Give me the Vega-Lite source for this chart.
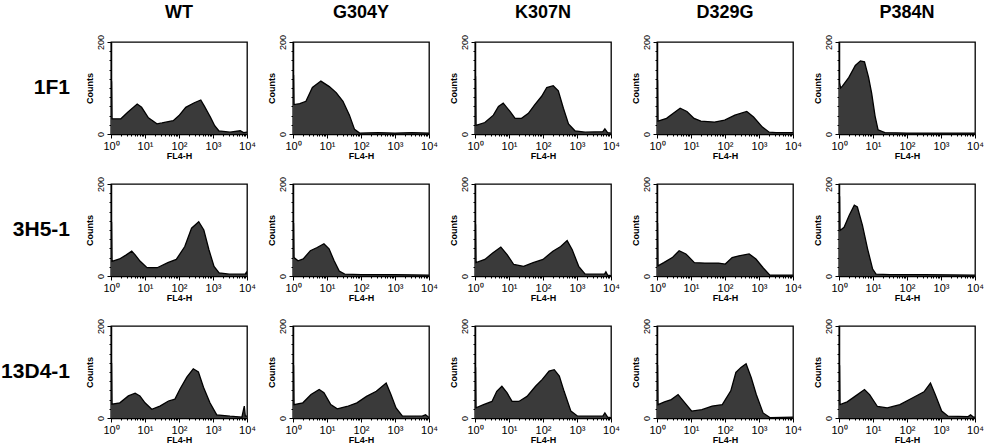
{
  "$schema": "https://vega.github.io/schema/vega-lite/v6.json",
  "background": "white",
  "padding": {"left": 1, "top": 4, "right": 0, "bottom": 0},
  "data": {"values": [
    {"r":"1F1","c":"WT","x":1,"y":113},{"r":"1F1","c":"WT","x":1.04,"y":113},{"r":"1F1","c":"WT","x":1.07,"y":33},{"r":"1F1","c":"WT","x":1.95,"y":33},{"r":"1F1","c":"WT","x":3.16,"y":48},{"r":"1F1","c":"WT","x":5.89,"y":65},{"r":"1F1","c":"WT","x":7.94,"y":58},{"r":"1F1","c":"WT","x":12.6,"y":35},{"r":"1F1","c":"WT","x":22.4,"y":22},{"r":"1F1","c":"WT","x":31.6,"y":24},{"r":"1F1","c":"WT","x":67.6,"y":29},{"r":"1F1","c":"WT","x":100,"y":40},{"r":"1F1","c":"WT","x":158,"y":58},{"r":"1F1","c":"WT","x":282,"y":68},{"r":"1F1","c":"WT","x":437,"y":74},{"r":"1F1","c":"WT","x":562,"y":60},{"r":"1F1","c":"WT","x":851,"y":36},{"r":"1F1","c":"WT","x":1122,"y":18},{"r":"1F1","c":"WT","x":1479,"y":7},{"r":"1F1","c":"WT","x":3162,"y":4},{"r":"1F1","c":"WT","x":6310,"y":7},{"r":"1F1","c":"WT","x":7943,"y":3},{"r":"1F1","c":"WT","x":10000,"y":4},

    {"r":"1F1","c":"G304Y","x":1,"y":127},{"r":"1F1","c":"G304Y","x":1.04,"y":127},{"r":"1F1","c":"G304Y","x":1.07,"y":64},{"r":"1F1","c":"G304Y","x":1.58,"y":66},{"r":"1F1","c":"G304Y","x":2.4,"y":71},{"r":"1F1","c":"G304Y","x":3.72,"y":101},{"r":"1F1","c":"G304Y","x":6.61,"y":115},{"r":"1F1","c":"G304Y","x":11.7,"y":103},{"r":"1F1","c":"G304Y","x":18.6,"y":90},{"r":"1F1","c":"G304Y","x":29.5,"y":71},{"r":"1F1","c":"G304Y","x":45.7,"y":41},{"r":"1F1","c":"G304Y","x":64.6,"y":10},{"r":"1F1","c":"G304Y","x":91.2,"y":2},{"r":"1F1","c":"G304Y","x":316,"y":3},{"r":"1F1","c":"G304Y","x":1000,"y":2},{"r":"1F1","c":"G304Y","x":3162,"y":3},{"r":"1F1","c":"G304Y","x":10000,"y":2},

    {"r":"1F1","c":"K307N","x":1,"y":124},{"r":"1F1","c":"K307N","x":1.04,"y":124},{"r":"1F1","c":"K307N","x":1.07,"y":19},{"r":"1F1","c":"K307N","x":1.95,"y":25},{"r":"1F1","c":"K307N","x":3.47,"y":41},{"r":"1F1","c":"K307N","x":4.9,"y":60},{"r":"1F1","c":"K307N","x":6.76,"y":67},{"r":"1F1","c":"K307N","x":10.7,"y":49},{"r":"1F1","c":"K307N","x":15.1,"y":34},{"r":"1F1","c":"K307N","x":23.4,"y":34},{"r":"1F1","c":"K307N","x":37.2,"y":45},{"r":"1F1","c":"K307N","x":57.5,"y":64},{"r":"1F1","c":"K307N","x":91.2,"y":82},{"r":"1F1","c":"K307N","x":129,"y":101},{"r":"1F1","c":"K307N","x":200,"y":105},{"r":"1F1","c":"K307N","x":282,"y":94},{"r":"1F1","c":"K307N","x":398,"y":56},{"r":"1F1","c":"K307N","x":562,"y":22},{"r":"1F1","c":"K307N","x":871,"y":7},{"r":"1F1","c":"K307N","x":1738,"y":4},{"r":"1F1","c":"K307N","x":5754,"y":5},{"r":"1F1","c":"K307N","x":6607,"y":11},{"r":"1F1","c":"K307N","x":7943,"y":3},{"r":"1F1","c":"K307N","x":10000,"y":2},

    {"r":"1F1","c":"D329G","x":1,"y":116},{"r":"1F1","c":"D329G","x":1.04,"y":116},{"r":"1F1","c":"D329G","x":1.07,"y":28},{"r":"1F1","c":"D329G","x":1.91,"y":34},{"r":"1F1","c":"D329G","x":3.02,"y":45},{"r":"1F1","c":"D329G","x":4.79,"y":56},{"r":"1F1","c":"D329G","x":7.59,"y":49},{"r":"1F1","c":"D329G","x":12.3,"y":34},{"r":"1F1","c":"D329G","x":19.5,"y":28},{"r":"1F1","c":"D329G","x":49,"y":26},{"r":"1F1","c":"D329G","x":97.7,"y":30},{"r":"1F1","c":"D329G","x":195,"y":41},{"r":"1F1","c":"D329G","x":437,"y":49},{"r":"1F1","c":"D329G","x":692,"y":37},{"r":"1F1","c":"D329G","x":1259,"y":15},{"r":"1F1","c":"D329G","x":1995,"y":4},{"r":"1F1","c":"D329G","x":3162,"y":3},{"r":"1F1","c":"D329G","x":10000,"y":3},

    {"r":"1F1","c":"P384N","x":1,"y":115},{"r":"1F1","c":"P384N","x":1.12,"y":100},{"r":"1F1","c":"P384N","x":1.26,"y":104},{"r":"1F1","c":"P384N","x":1.95,"y":123},{"r":"1F1","c":"P384N","x":3.02,"y":149},{"r":"1F1","c":"P384N","x":4.27,"y":159},{"r":"1F1","c":"P384N","x":5.62,"y":157},{"r":"1F1","c":"P384N","x":7.41,"y":123},{"r":"1F1","c":"P384N","x":9.12,"y":89},{"r":"1F1","c":"P384N","x":11.5,"y":39},{"r":"1F1","c":"P384N","x":14.1,"y":9},{"r":"1F1","c":"P384N","x":22.4,"y":3},{"r":"1F1","c":"P384N","x":100,"y":2},{"r":"1F1","c":"P384N","x":1000,"y":2},{"r":"1F1","c":"P384N","x":10000,"y":2},

    {"r":"3H5-1","c":"WT","x":1,"y":116},{"r":"3H5-1","c":"WT","x":1.04,"y":116},{"r":"3H5-1","c":"WT","x":1.07,"y":32},{"r":"3H5-1","c":"WT","x":1.78,"y":37},{"r":"3H5-1","c":"WT","x":2.82,"y":46},{"r":"3H5-1","c":"WT","x":4.07,"y":54},{"r":"3H5-1","c":"WT","x":5.13,"y":46},{"r":"3H5-1","c":"WT","x":7.24,"y":32},{"r":"3H5-1","c":"WT","x":11.5,"y":18},{"r":"3H5-1","c":"WT","x":22.9,"y":18},{"r":"3H5-1","c":"WT","x":46.8,"y":29},{"r":"3H5-1","c":"WT","x":83.2,"y":36},{"r":"3H5-1","c":"WT","x":148,"y":64},{"r":"3H5-1","c":"WT","x":234,"y":104},{"r":"3H5-1","c":"WT","x":380,"y":118},{"r":"3H5-1","c":"WT","x":537,"y":100},{"r":"3H5-1","c":"WT","x":759,"y":57},{"r":"3H5-1","c":"WT","x":1072,"y":21},{"r":"3H5-1","c":"WT","x":1514,"y":7},{"r":"3H5-1","c":"WT","x":3020,"y":4},{"r":"3H5-1","c":"WT","x":8913,"y":4},{"r":"3H5-1","c":"WT","x":9550,"y":8},{"r":"3H5-1","c":"WT","x":10000,"y":3},

    {"r":"3H5-1","c":"G304Y","x":1,"y":114},{"r":"3H5-1","c":"G304Y","x":1.04,"y":114},{"r":"3H5-1","c":"G304Y","x":1.07,"y":40},{"r":"3H5-1","c":"G304Y","x":1.41,"y":33},{"r":"3H5-1","c":"G304Y","x":2,"y":37},{"r":"3H5-1","c":"G304Y","x":3.24,"y":55},{"r":"3H5-1","c":"G304Y","x":5.13,"y":62},{"r":"3H5-1","c":"G304Y","x":8.13,"y":70},{"r":"3H5-1","c":"G304Y","x":11.5,"y":59},{"r":"3H5-1","c":"G304Y","x":16.2,"y":33},{"r":"3H5-1","c":"G304Y","x":22.9,"y":11},{"r":"3H5-1","c":"G304Y","x":33.1,"y":4},{"r":"3H5-1","c":"G304Y","x":100,"y":3},{"r":"3H5-1","c":"G304Y","x":1000,"y":3},{"r":"3H5-1","c":"G304Y","x":10000,"y":2},

    {"r":"3H5-1","c":"K307N","x":1,"y":111},{"r":"3H5-1","c":"K307N","x":1.04,"y":111},{"r":"3H5-1","c":"K307N","x":1.07,"y":29},{"r":"3H5-1","c":"K307N","x":1.95,"y":36},{"r":"3H5-1","c":"K307N","x":3.31,"y":50},{"r":"3H5-1","c":"K307N","x":5.75,"y":63},{"r":"3H5-1","c":"K307N","x":8.91,"y":46},{"r":"3H5-1","c":"K307N","x":13.8,"y":25},{"r":"3H5-1","c":"K307N","x":26.9,"y":21},{"r":"3H5-1","c":"K307N","x":51.3,"y":29},{"r":"3H5-1","c":"K307N","x":100,"y":36},{"r":"3H5-1","c":"K307N","x":195,"y":54},{"r":"3H5-1","c":"K307N","x":331,"y":64},{"r":"3H5-1","c":"K307N","x":513,"y":77},{"r":"3H5-1","c":"K307N","x":724,"y":57},{"r":"3H5-1","c":"K307N","x":1122,"y":21},{"r":"3H5-1","c":"K307N","x":1738,"y":4},{"r":"3H5-1","c":"K307N","x":6457,"y":4},{"r":"3H5-1","c":"K307N","x":7079,"y":9},{"r":"3H5-1","c":"K307N","x":7943,"y":2},{"r":"3H5-1","c":"K307N","x":10000,"y":1},

    {"r":"3H5-1","c":"D329G","x":1,"y":114},{"r":"3H5-1","c":"D329G","x":1.04,"y":114},{"r":"3H5-1","c":"D329G","x":1.07,"y":22},{"r":"3H5-1","c":"D329G","x":1.58,"y":29},{"r":"3H5-1","c":"D329G","x":2.82,"y":40},{"r":"3H5-1","c":"D329G","x":4.47,"y":55},{"r":"3H5-1","c":"D329G","x":7.08,"y":48},{"r":"3H5-1","c":"D329G","x":12.6,"y":29},{"r":"3H5-1","c":"D329G","x":25.7,"y":28},{"r":"3H5-1","c":"D329G","x":64.6,"y":28},{"r":"3H5-1","c":"D329G","x":102,"y":26},{"r":"3H5-1","c":"D329G","x":162,"y":40},{"r":"3H5-1","c":"D329G","x":257,"y":44},{"r":"3H5-1","c":"D329G","x":513,"y":48},{"r":"3H5-1","c":"D329G","x":813,"y":37},{"r":"3H5-1","c":"D329G","x":1318,"y":18},{"r":"3H5-1","c":"D329G","x":2089,"y":2},{"r":"3H5-1","c":"D329G","x":10000,"y":2},

    {"r":"3H5-1","c":"P384N","x":1,"y":172},{"r":"3H5-1","c":"P384N","x":1.04,"y":172},{"r":"3H5-1","c":"P384N","x":1.07,"y":99},{"r":"3H5-1","c":"P384N","x":1.41,"y":106},{"r":"3H5-1","c":"P384N","x":2,"y":132},{"r":"3H5-1","c":"P384N","x":2.82,"y":154},{"r":"3H5-1","c":"P384N","x":3.47,"y":150},{"r":"3H5-1","c":"P384N","x":4.9,"y":110},{"r":"3H5-1","c":"P384N","x":6.92,"y":59},{"r":"3H5-1","c":"P384N","x":9.77,"y":15},{"r":"3H5-1","c":"P384N","x":12.3,"y":4},{"r":"3H5-1","c":"P384N","x":31.6,"y":3},{"r":"3H5-1","c":"P384N","x":316,"y":3},{"r":"3H5-1","c":"P384N","x":10000,"y":2},

    {"r":"13D4-1","c":"WT","x":1,"y":118},{"r":"13D4-1","c":"WT","x":1.04,"y":118},{"r":"13D4-1","c":"WT","x":1.07,"y":30},{"r":"13D4-1","c":"WT","x":1.82,"y":33},{"r":"13D4-1","c":"WT","x":3.24,"y":48},{"r":"13D4-1","c":"WT","x":5.13,"y":54},{"r":"13D4-1","c":"WT","x":7.08,"y":48},{"r":"13D4-1","c":"WT","x":10,"y":33},{"r":"13D4-1","c":"WT","x":15.8,"y":19},{"r":"13D4-1","c":"WT","x":27.5,"y":26},{"r":"13D4-1","c":"WT","x":49,"y":37},{"r":"13D4-1","c":"WT","x":75.9,"y":41},{"r":"13D4-1","c":"WT","x":107,"y":63},{"r":"13D4-1","c":"WT","x":170,"y":89},{"r":"13D4-1","c":"WT","x":263,"y":107},{"r":"13D4-1","c":"WT","x":372,"y":100},{"r":"13D4-1","c":"WT","x":525,"y":67},{"r":"13D4-1","c":"WT","x":813,"y":33},{"r":"13D4-1","c":"WT","x":1288,"y":7},{"r":"13D4-1","c":"WT","x":3162,"y":4},{"r":"13D4-1","c":"WT","x":7079,"y":2},{"r":"13D4-1","c":"WT","x":8318,"y":26},{"r":"13D4-1","c":"WT","x":8913,"y":4},{"r":"13D4-1","c":"WT","x":10000,"y":4},

    {"r":"13D4-1","c":"G304Y","x":1,"y":113},{"r":"13D4-1","c":"G304Y","x":1.04,"y":113},{"r":"13D4-1","c":"G304Y","x":1.07,"y":29},{"r":"13D4-1","c":"G304Y","x":1.95,"y":33},{"r":"13D4-1","c":"G304Y","x":3.39,"y":51},{"r":"13D4-1","c":"G304Y","x":5.89,"y":62},{"r":"13D4-1","c":"G304Y","x":8.13,"y":55},{"r":"13D4-1","c":"G304Y","x":12.9,"y":29},{"r":"13D4-1","c":"G304Y","x":20,"y":20},{"r":"13D4-1","c":"G304Y","x":38.9,"y":25},{"r":"13D4-1","c":"G304Y","x":75.9,"y":33},{"r":"13D4-1","c":"G304Y","x":145,"y":47},{"r":"13D4-1","c":"G304Y","x":282,"y":58},{"r":"13D4-1","c":"G304Y","x":550,"y":76},{"r":"13D4-1","c":"G304Y","x":759,"y":51},{"r":"13D4-1","c":"G304Y","x":1072,"y":22},{"r":"13D4-1","c":"G304Y","x":1660,"y":4},{"r":"13D4-1","c":"G304Y","x":6310,"y":4},{"r":"13D4-1","c":"G304Y","x":7943,"y":7},{"r":"13D4-1","c":"G304Y","x":10000,"y":1},

    {"r":"13D4-1","c":"K307N","x":1,"y":109},{"r":"13D4-1","c":"K307N","x":1.04,"y":109},{"r":"13D4-1","c":"K307N","x":1.07,"y":22},{"r":"13D4-1","c":"K307N","x":1.78,"y":29},{"r":"13D4-1","c":"K307N","x":3.16,"y":36},{"r":"13D4-1","c":"K307N","x":4.37,"y":58},{"r":"13D4-1","c":"K307N","x":6.17,"y":69},{"r":"13D4-1","c":"K307N","x":8.71,"y":55},{"r":"13D4-1","c":"K307N","x":12.3,"y":36},{"r":"13D4-1","c":"K307N","x":19.5,"y":36},{"r":"13D4-1","c":"K307N","x":33.9,"y":47},{"r":"13D4-1","c":"K307N","x":60.3,"y":69},{"r":"13D4-1","c":"K307N","x":95.5,"y":84},{"r":"13D4-1","c":"K307N","x":151,"y":102},{"r":"13D4-1","c":"K307N","x":214,"y":105},{"r":"13D4-1","c":"K307N","x":302,"y":91},{"r":"13D4-1","c":"K307N","x":417,"y":58},{"r":"13D4-1","c":"K307N","x":661,"y":15},{"r":"13D4-1","c":"K307N","x":1047,"y":4},{"r":"13D4-1","c":"K307N","x":5754,"y":4},{"r":"13D4-1","c":"K307N","x":6607,"y":11},{"r":"13D4-1","c":"K307N","x":7943,"y":2},{"r":"13D4-1","c":"K307N","x":10000,"y":1},

    {"r":"13D4-1","c":"D329G","x":1,"y":114},{"r":"13D4-1","c":"D329G","x":1.04,"y":114},{"r":"13D4-1","c":"D329G","x":1.07,"y":29},{"r":"13D4-1","c":"D329G","x":1.66,"y":35},{"r":"13D4-1","c":"D329G","x":2.63,"y":40},{"r":"13D4-1","c":"D329G","x":4.17,"y":51},{"r":"13D4-1","c":"D329G","x":6.61,"y":33},{"r":"13D4-1","c":"D329G","x":10.5,"y":15},{"r":"13D4-1","c":"D329G","x":20.9,"y":18},{"r":"13D4-1","c":"D329G","x":41.7,"y":26},{"r":"13D4-1","c":"D329G","x":83.2,"y":29},{"r":"13D4-1","c":"D329G","x":148,"y":59},{"r":"13D4-1","c":"D329G","x":209,"y":99},{"r":"13D4-1","c":"D329G","x":295,"y":110},{"r":"13D4-1","c":"D329G","x":417,"y":118},{"r":"13D4-1","c":"D329G","x":589,"y":88},{"r":"13D4-1","c":"D329G","x":832,"y":51},{"r":"13D4-1","c":"D329G","x":1318,"y":11},{"r":"13D4-1","c":"D329G","x":2089,"y":1},{"r":"13D4-1","c":"D329G","x":10000,"y":2},

    {"r":"13D4-1","c":"P384N","x":1,"y":113},{"r":"13D4-1","c":"P384N","x":1.04,"y":113},{"r":"13D4-1","c":"P384N","x":1.07,"y":29},{"r":"13D4-1","c":"P384N","x":1.74,"y":35},{"r":"13D4-1","c":"P384N","x":2.95,"y":47},{"r":"13D4-1","c":"P384N","x":5.62,"y":62},{"r":"13D4-1","c":"P384N","x":7.94,"y":51},{"r":"13D4-1","c":"P384N","x":13.5,"y":25},{"r":"13D4-1","c":"P384N","x":26.3,"y":22},{"r":"13D4-1","c":"P384N","x":61.7,"y":29},{"r":"13D4-1","c":"P384N","x":148,"y":44},{"r":"13D4-1","c":"P384N","x":316,"y":57},{"r":"13D4-1","c":"P384N","x":490,"y":76},{"r":"13D4-1","c":"P384N","x":676,"y":51},{"r":"13D4-1","c":"P384N","x":1047,"y":15},{"r":"13D4-1","c":"P384N","x":1622,"y":4},{"r":"13D4-1","c":"P384N","x":6310,"y":3},{"r":"13D4-1","c":"P384N","x":7413,"y":7},{"r":"13D4-1","c":"P384N","x":8913,"y":2},{"r":"13D4-1","c":"P384N","x":10000,"y":2}
  ]},
  "facet": {
    "row": {"field": "r", "type": "nominal", "sort": ["1F1", "3H5-1", "13D4-1"], "title": null,
      "header": {"labelOrient": "left", "labelAngle": 0, "labelAlign": "left", "labelBaseline": "middle", "labelFont": "Liberation Sans", "labelFontSize": 21, "labelFontWeight": "bold", "labelColor": "black", "labelPadding": 41}},
    "column": {"field": "c", "type": "nominal", "sort": ["WT", "G304Y", "K307N", "D329G", "P384N"], "title": null,
      "header": {"labelOrient": "top", "labelFont": "Liberation Sans", "labelFontSize": 18, "labelFontWeight": "bold", "labelColor": "black", "labelPadding": 20}}
  },
  "spacing": {"row": 50, "column": 46},
  "bounds": "flush",
  "resolve": {"axis": {"x": "independent", "y": "independent"}},
  "spec": {
    "width": 136,
    "height": 92,
    "mark": {"type": "area", "color": "#3a3a3a", "opacity": 1, "interpolate": "linear", "clip": true, "line": {"color": "black", "strokeWidth": 1.3}},
    "encoding": {
      "x": {"field": "x", "type": "quantitative", "scale": {"type": "log", "domain": [1, 10000], "nice": false},
        "axis": {"title": "FL4-H", "titleFont": "Liberation Sans", "titleFontSize": 9, "titleFontWeight": "bold", "titlePadding": 0,
          "values": [1,2,3,4,5,6,7,8,9,10,20,30,40,50,60,70,80,90,100,200,300,400,500,600,700,800,900,1000,2000,3000,4000,5000,6000,7000,8000,9000,10000],
          "labelExpr": "indexof([1,10,100,1000,10000], datum.value) >= 0 ? '10' + ['⁰','¹','²','³','⁴'][indexof([1,10,100,1000,10000], datum.value)] : ''",
          "labelFont": "Liberation Sans", "labelFontSize": 11, "labelColor": "black", "labelPadding": 2, "labelOverlap": false, "labelFlush": false,
          "tickSize": {"condition": {"test": "indexof([1,10,100,1000,10000], datum.value) >= 0", "value": 4}, "value": 2},
          "tickColor": "black", "domainColor": "black", "domainWidth": 1.5, "grid": false}},
      "y": {"field": "y", "type": "quantitative", "scale": {"domain": [0, 200], "nice": false},
        "axis": {"title": "Counts", "titleFont": "Liberation Sans", "titleFontSize": 9, "titleFontWeight": "bold", "titlePadding": 2,
          "values": [0,20,40,60,80,100,120,140,160,180,200],
          "labelExpr": "datum.value == 0 || datum.value == 200 ? datum.label : ''",
          "labelAngle": 270, "labelFont": "Liberation Sans", "labelFontSize": 9, "labelColor": "black", "labelPadding": 2, "labelOverlap": false,
          "tickSize": {"condition": {"test": "datum.value == 0 || datum.value == 200", "value": 4}, "value": 2},
          "tickColor": "black", "domainColor": "black", "domainWidth": 1.5, "grid": false}}
    }
  },
  "config": {
    "view": {"stroke": "black", "strokeWidth": 1.3},
    "font": "Liberation Sans"
  }
}
